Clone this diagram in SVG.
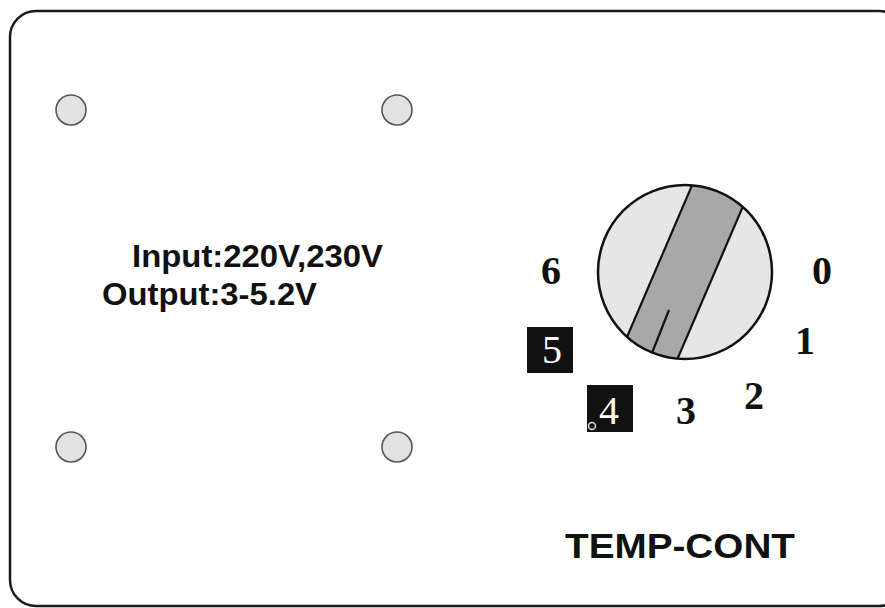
<svg xmlns="http://www.w3.org/2000/svg" width="885" height="608" viewBox="0 0 885 608">
<style>
.frame{fill:#fff;stroke:#1a1a1a;stroke-width:2.5}
.hole{fill:#e2e2e2;stroke:#555;stroke-width:1.6}
.lbl{font-family:"Liberation Sans",Arial,sans-serif;font-weight:bold;fill:#111}
.num{font-family:"Liberation Serif","Times New Roman",serif;font-weight:bold;font-size:40px;fill:#111;text-anchor:middle}
.wnum{font-family:"Liberation Serif","Times New Roman",serif;font-size:40px;fill:#fff;text-anchor:middle}
.edge{stroke:#111;stroke-width:2.2;fill:none}
</style>
<defs>
<clipPath id="knobclip"><circle cx="685" cy="272" r="87"/></clipPath>
</defs>
<rect class="frame" x="10" y="11" width="895" height="595" rx="26"/>
<g id="holes">
<circle class="hole" cx="71" cy="110" r="15"/>
<circle class="hole" cx="397" cy="110" r="15"/>
<circle class="hole" cx="71" cy="447" r="15"/>
<circle class="hole" cx="397" cy="447" r="15"/>
</g>
<g id="spec">
<text class="lbl" x="132" y="267" font-size="31" textLength="251" lengthAdjust="spacingAndGlyphs">Input:220V,230V</text>
<text class="lbl" x="102" y="305" font-size="31" textLength="215" lengthAdjust="spacingAndGlyphs">Output:3-5.2V</text>
</g>
<g id="knob">
<circle cx="685" cy="272" r="87" fill="#e6e6e6"/>
<g clip-path="url(#knobclip)">
<polygon points="705,155 762,162 665,388 615,365" fill="#a8a8a8"/>
<line class="edge" x1="705" y1="155" x2="615" y2="365"/>
<line class="edge" x1="762" y1="162" x2="665" y2="388"/>
</g>
<line class="edge" x1="669" y1="310" x2="652" y2="353"/>
<circle cx="685" cy="272" r="87" fill="none" stroke="#111" stroke-width="2.5"/>
</g>
<g id="scale">
<text class="num" x="551" y="284">6</text>
<text class="num" x="822" y="284">0</text>
<text class="num" x="805" y="354">1</text>
<text class="num" x="754" y="409">2</text>
<text class="num" x="686" y="424">3</text>
<rect x="527" y="327" width="46" height="46" fill="#111"/>
<text class="wnum" x="552" y="363">5</text>
<rect x="587" y="385" width="46" height="47" fill="#111"/>
<text class="wnum" x="609" y="424">4</text>
<circle cx="592" cy="426" r="3.5" fill="none" stroke="#ddd" stroke-width="1.5"/>
</g>
<g id="title">
<text class="lbl" x="565" y="558" font-size="35" textLength="230" lengthAdjust="spacingAndGlyphs">TEMP-CONT</text>
</g>
</svg>
